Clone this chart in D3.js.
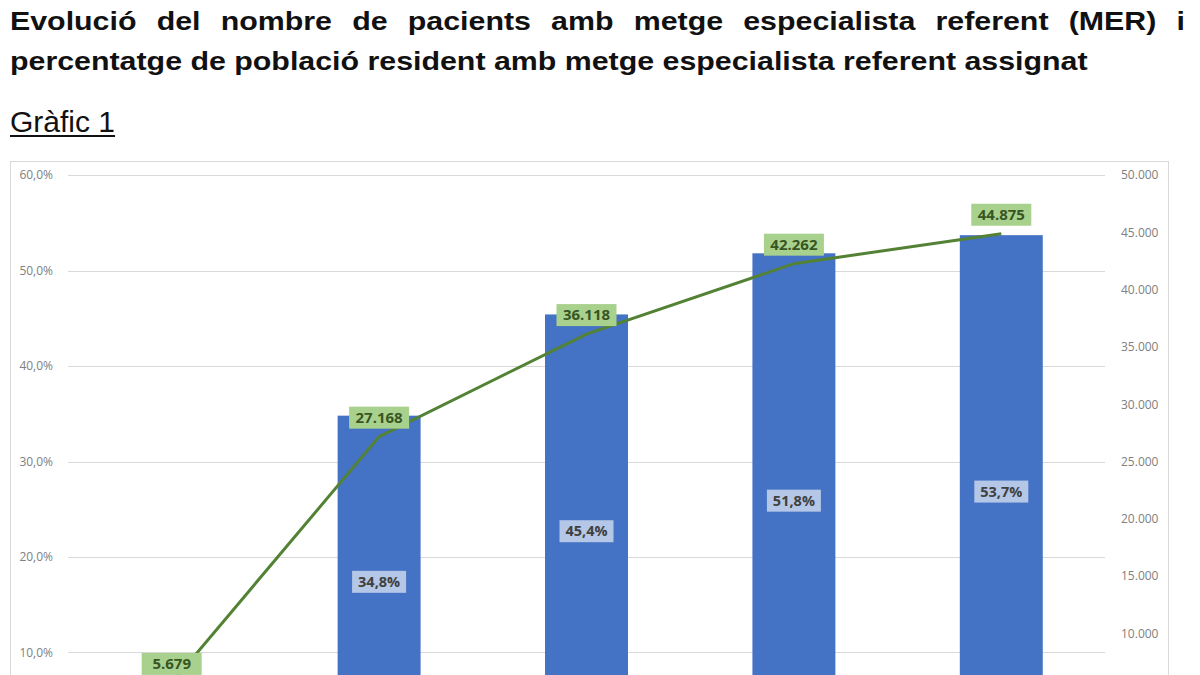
<!DOCTYPE html>
<html>
<head>
<meta charset="utf-8">
<style>
    body { margin: 0; background: #fff; overflow: hidden; }
    svg { display: block; }
</style>
</head>
<body>
<div id="chart"></div>
<script src="https://d3js.org/d3.v7.min.js"></script>
<script>
    // values (first bar's percentage sits below the crop, estimated)
    var years = ["2018", "2019", "2020", "2021", "2022"];
    var pctAssigned = [0.074, 0.348, 0.454, 0.518, 0.537];
    var patientsMER = [5679, 27168, 36118, 42262, 44875];
    var pctTicks = [0, 0.1, 0.2, 0.3, 0.4, 0.5, 0.6];
    var patientTicks = [0, 5000, 10000, 15000, 20000, 25000, 30000, 35000, 40000, 45000, 50000];

    var titleLine1 = "Evolució del nombre de pacients amb metge especialista referent (MER) i";
    var titleLine2 = "percentatge de població resident amb metge especialista referent assignat";

    var width = 1200, height = 675;
    var plot = { left: 68, right: 1105, top: 175, bottom: 748 };

    var ca = d3.formatLocale({ decimal: ",", thousands: ".", grouping: [3], currency: ["", "€"] });
    var fmtPct = ca.format(".1%");
    var fmtNum = ca.format(",d");

    var svg = d3.select("#chart").append("svg")
        .attr("width", width)
        .attr("height", height);

    // title: the scan is stretched sideways, so squeeze/stretch the title group
    var title = svg.append("g")
        .style("font-family", "Liberation Sans, Arial, sans-serif")
        .style("font-weight", "bold")
        .style("font-size", "25px")
        .attr("fill", "#111");

    var t2 = title.append("text")
        .attr("x", 0)
        .attr("y", 70)
        .text(titleLine2);
    var sx = 1078 / t2.node().getComputedTextLength();
    title.attr("transform", "translate(10,0) scale(" + sx + ",1)");

    // justify first line between x=10 and x=1185
    var t1 = title.append("text").attr("y", 30);
    var words = titleLine1.split(" ");
    var spans = t1.selectAll("tspan").data(words).enter().append("tspan").text(d => d);
    var widths = [];
    spans.each(function() { widths.push(this.getComputedTextLength()); });
    var gap = (1175 / sx - d3.sum(widths)) / (words.length - 1);
    var xpos = 0;
    spans.each(function(d, i) {
        d3.select(this).attr("x", xpos);
        xpos += widths[i] + gap;
    });

    var sub = svg.append("text")
        .attr("x", 10)
        .attr("y", 132)
        .style("font-family", "Liberation Sans, Arial, sans-serif")
        .style("font-size", "30px")
        .attr("fill", "#111")
        .text("Gràfic 1");
    var subW = sub.node().getComputedTextLength();
    svg.append("line")
        .attr("x1", 10).attr("x2", 10 + subW)
        .attr("y1", 136).attr("y2", 136)
        .attr("stroke", "#111").attr("stroke-width", 2);

    // chart frame
    svg.append("rect")
        .attr("x", 10.5).attr("y", 161.5)
        .attr("width", 1158).attr("height", 600)
        .attr("fill", "none")
        .attr("stroke", "#d9d9d9");

    var x = d3.scaleBand()
        .domain(years)
        .range([plot.left, plot.right])
        .paddingInner(0.6)
        .paddingOuter(0.3);

    var yPct = d3.scaleLinear().domain([0, 0.6]).range([plot.bottom, plot.top]);
    var yNum = d3.scaleLinear().domain([0, 50000]).range([plot.bottom, plot.top]);

    // only what falls inside the crop gets a label
    var visible = y => y < height - 8;

    // gridlines
    svg.append("g")
        .selectAll("line")
        .data(pctTicks)
        .enter().append("line")
        .attr("x1", plot.left).attr("x2", plot.right)
        .attr("y1", d => Math.round(yPct(d)) + 0.5)
        .attr("y2", d => Math.round(yPct(d)) + 0.5)
        .attr("stroke", "#d9d9d9");

    // left axis
    var leftAxis = svg.append("g")
        .attr("transform", "translate(" + (plot.left - 12) + ",0)")
        .call(d3.axisLeft(yPct)
            .tickValues(pctTicks.filter(d => visible(yPct(d))))
            .tickFormat(fmtPct).tickSize(0));
    // right axis
    var rightAxis = svg.append("g")
        .attr("transform", "translate(" + (plot.right + 13) + ",0)")
        .call(d3.axisRight(yNum)
            .tickValues(patientTicks.filter(d => visible(yNum(d))))
            .tickFormat(fmtNum).tickSize(0));
    [leftAxis, rightAxis].forEach(function(a) {
        a.select(".domain").remove();
        a.selectAll("text")
            .attr("fill", "#808080")
            .style("font-family", "Open Sans, sans-serif")
            .style("font-size", "12px");
    });

    var data = years.map((d, i) => ({ year: d, pct: pctAssigned[i], n: patientsMER[i] }));

    // bars
    svg.append("g")
        .selectAll("rect")
        .data(data)
        .enter().append("rect")
        .attr("x", d => x(d.year))
        .attr("width", x.bandwidth())
        .attr("y", d => yPct(d.pct))
        .attr("height", d => yPct(0) - yPct(d.pct))
        .attr("fill", "#4472c4");

    // line
    var line = d3.line()
        .x(d => x(d.year) + x.bandwidth() / 2)
        .y(d => yNum(d.n));
    svg.append("path")
        .datum(data)
        .attr("d", line)
        .attr("fill", "none")
        .attr("stroke", "#548235")
        .attr("stroke-width", 3);

    // bar labels (middle of bar)
    var barLab = svg.append("g")
        .selectAll("g")
        .data(data.filter(d => visible((yPct(d.pct) + yPct(0)) / 2)))
        .enter().append("g")
        .attr("transform", d => "translate(" + (x(d.year) + x.bandwidth() / 2) + "," + ((yPct(d.pct) + yPct(0)) / 2) + ")");
    barLab.append("rect")
        .attr("x", -27).attr("y", -11)
        .attr("width", 54).attr("height", 22)
        .attr("fill", "#b4c7e7");
    barLab.append("text")
        .attr("text-anchor", "middle")
        .attr("dy", "0.35em")
        .attr("fill", "#404040")
        .style("font-family", "Open Sans, sans-serif")
        .style("font-weight", "bold")
        .style("font-size", "14.5px")
        .text(d => fmtPct(d.pct));

    // line labels (above point)
    var lineLab = svg.append("g")
        .selectAll("g")
        .data(data)
        .enter().append("g")
        .attr("transform", d => "translate(" + (x(d.year) + x.bandwidth() / 2) + "," + (yNum(d.n) - 19) + ")");
    lineLab.append("rect")
        .attr("x", -30).attr("y", -11)
        .attr("width", 60).attr("height", 22)
        .attr("fill", "#a9d18e");
    lineLab.append("text")
        .attr("text-anchor", "middle")
        .attr("dy", "0.35em")
        .attr("fill", "#375623")
        .style("font-family", "Open Sans, sans-serif")
        .style("font-weight", "bold")
        .style("font-size", "15px")
        .text(d => fmtNum(d.n));
</script>
</body>
</html>
